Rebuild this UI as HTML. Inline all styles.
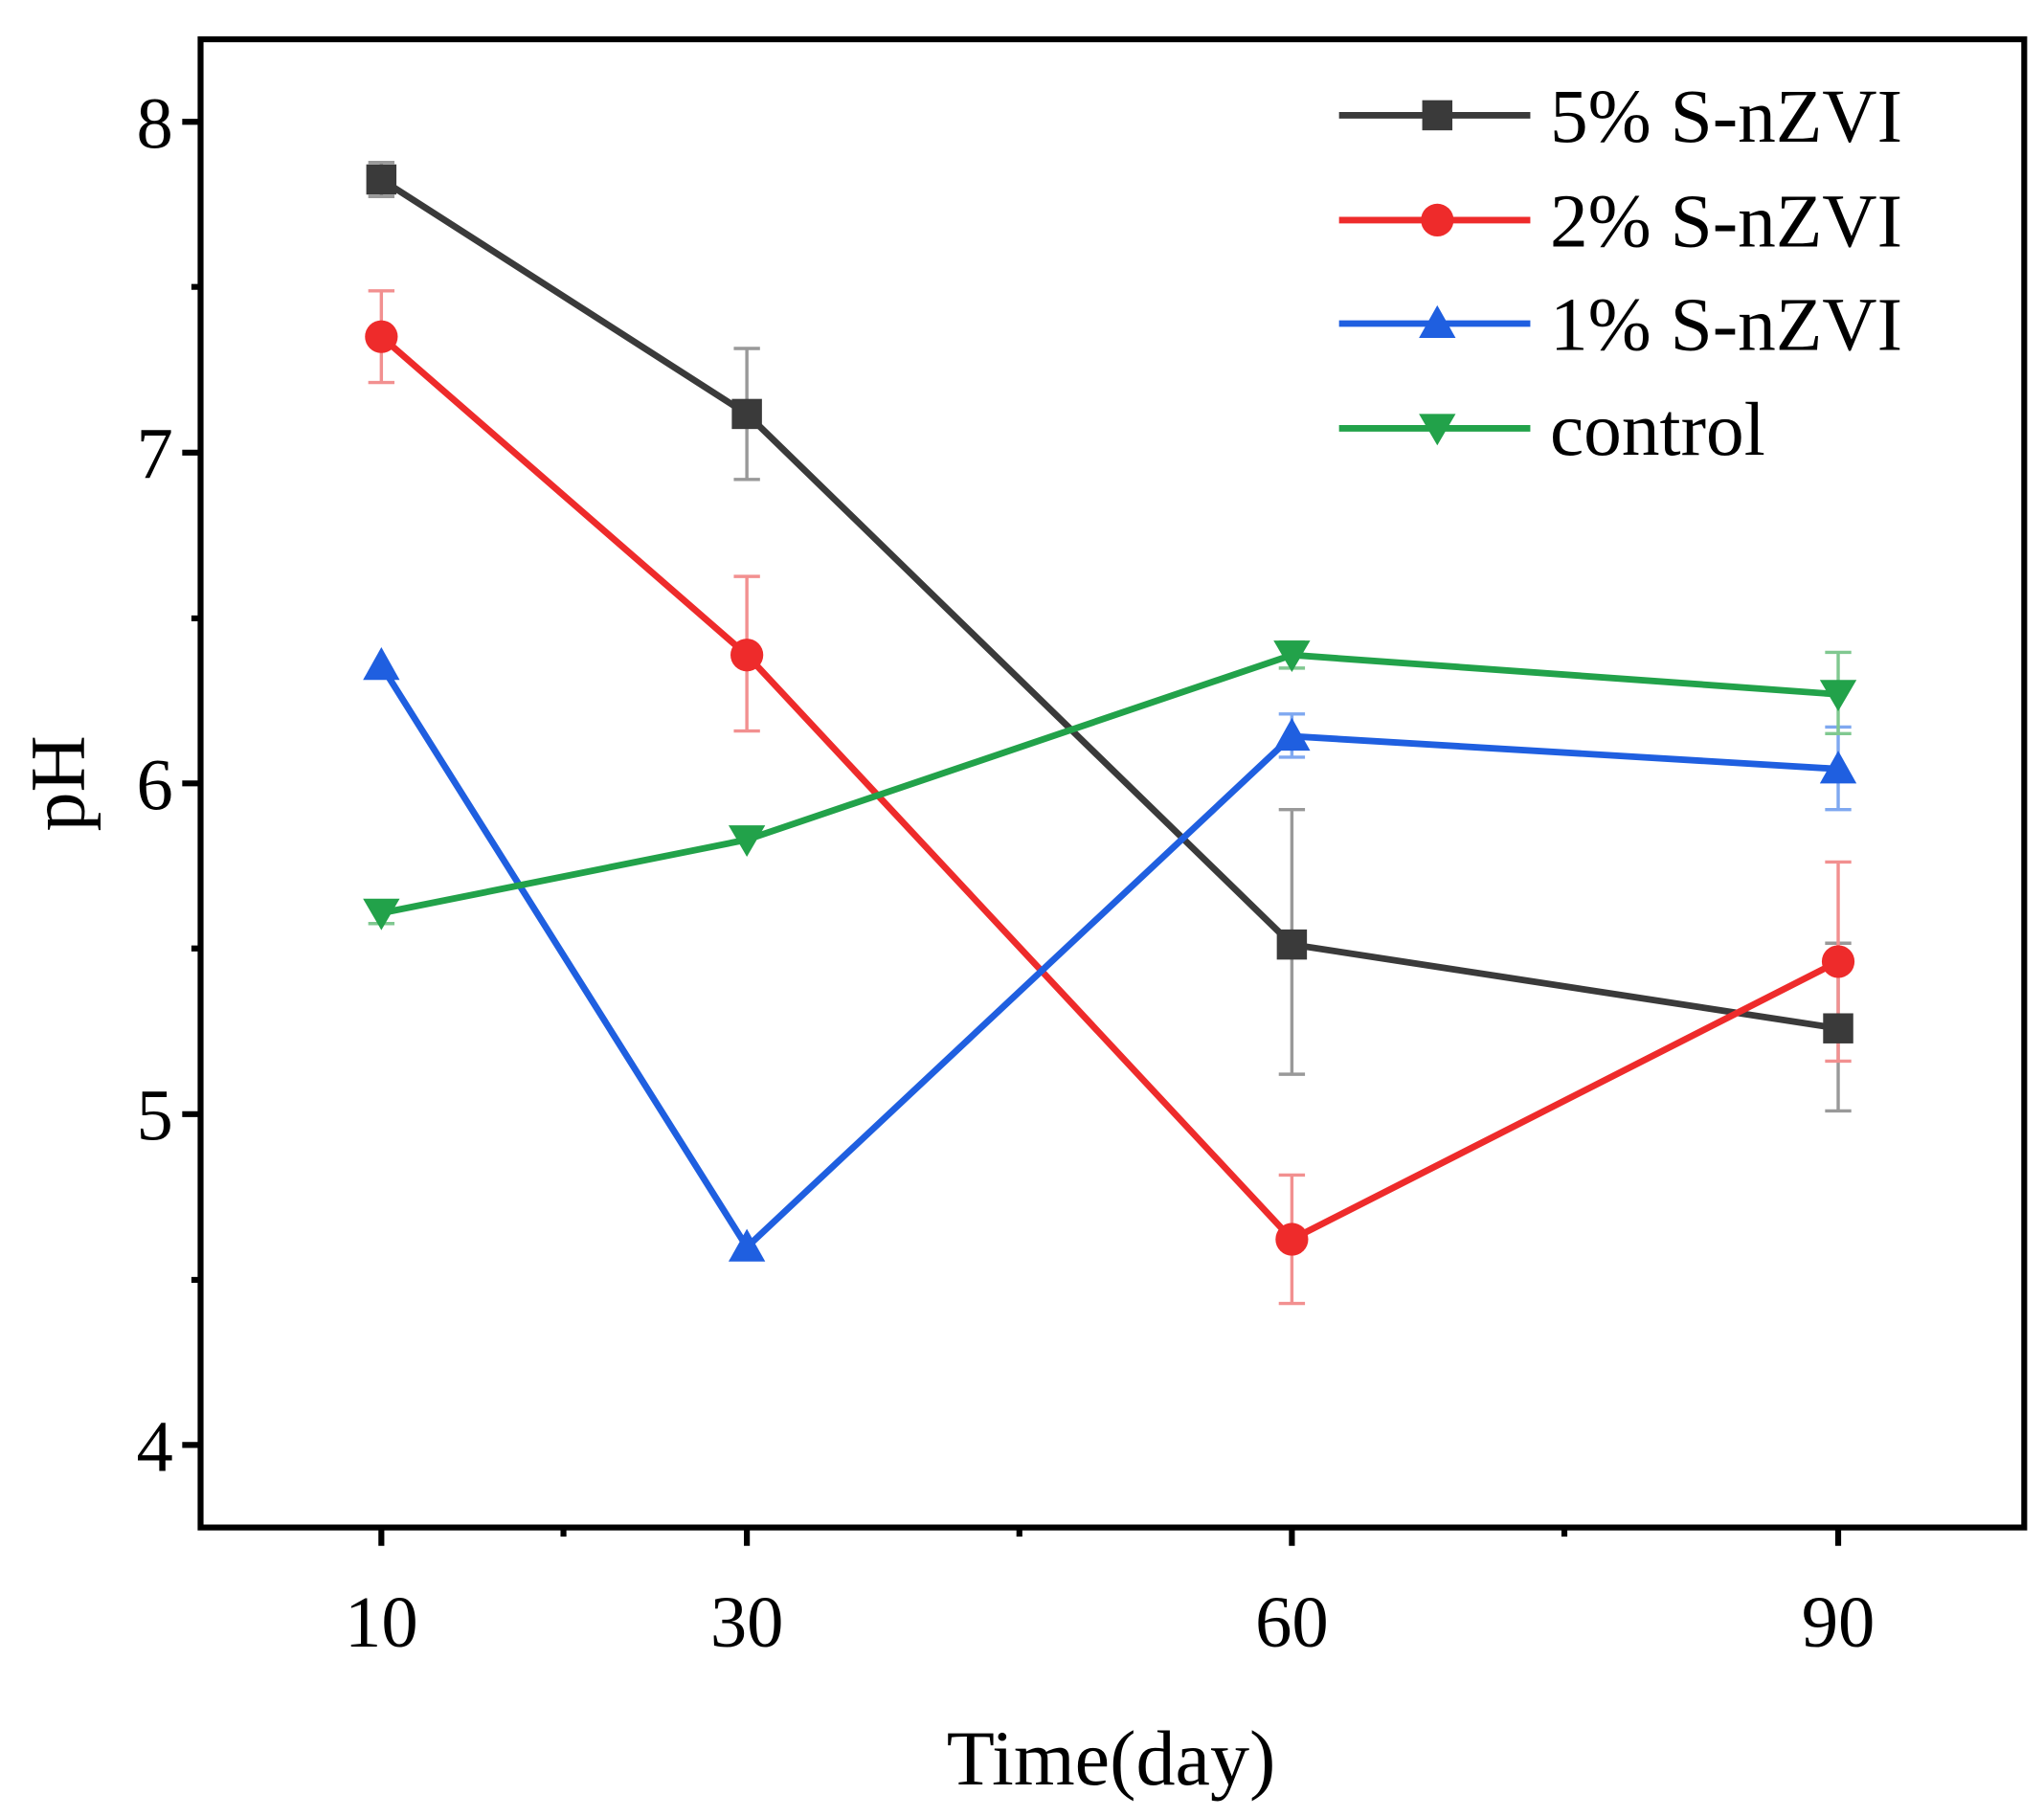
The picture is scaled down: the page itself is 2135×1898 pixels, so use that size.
<!DOCTYPE html>
<html><head><style>body{margin:0;background:#fff}svg{display:block}</style></head><body>
<svg width="2135" height="1898" viewBox="0 0 1560 1387" xmlns="http://www.w3.org/2000/svg" font-family="Liberation Serif, serif">
<rect x="0" y="0" width="1560" height="1387" fill="#fff"/>
<defs>
<g id="sq"><rect x="-11.5" y="-11.5" width="23" height="23" fill="#3a3a3a"/></g>
<g id="ci"><circle r="12.5" fill="#ee2b2b"/></g>
<g id="tu"><polygon points="0,-14 14,11 -14,11" fill="#1f5fe0"/></g>
<g id="td"><polygon points="0,13 14,-11 -14,-11" fill="#22a24a"/></g>
</defs>
<g stroke-width="2.5" fill="none">
<g stroke="#999"><path d="M291,124V150M281,124H301M281,150H301"/><path d="M570,266V366M560,266H580M560,366H580"/><path d="M986,618V820M976,618H996M976,820H996"/><path d="M1403,720V848M1393,720H1413M1393,848H1413"/></g>
<g stroke="#f29090"><path d="M291,222V292M281,222H301M281,292H301"/><path d="M570,440V558M560,440H580M560,558H580"/><path d="M986,897V995M976,897H996M976,995H996"/><path d="M1403,658V810M1393,658H1413M1393,810H1413"/></g>
<g stroke="#7fa8f0"><path d="M986,545V578M976,545H996M976,578H996"/><path d="M1403,555V618M1393,555H1413M1393,618H1413"/></g>
<g stroke="#80c890"><path d="M291,688V705M281,688H301M281,705H301"/><path d="M986,490V510M976,490H996M976,510H996"/><path d="M1403,498V560M1393,498H1413M1393,560H1413"/></g>
</g>
<g fill="none" stroke-width="5" stroke-linejoin="round">
<polyline stroke="#3a3a3a" points="291,137 570,316 986,721 1403,785"/>
<polyline stroke="#ee2b2b" points="291,257 570,500 986,946 1403,734"/>
<polyline stroke="#1f5fe0" points="291,508 570,952 986,562 1403,587"/>
<polyline stroke="#22a24a" points="291,697 570,641 986,500 1403,530"/>
</g>
<use href="#sq" x="291" y="137"/><use href="#sq" x="570" y="316"/><use href="#sq" x="986" y="721"/><use href="#sq" x="1403" y="785"/>
<use href="#ci" x="291" y="257"/><use href="#ci" x="570" y="500"/><use href="#ci" x="986" y="946"/><use href="#ci" x="1403" y="734"/>
<use href="#tu" x="291" y="508"/><use href="#tu" x="570" y="952"/><use href="#tu" x="986" y="562"/><use href="#tu" x="1403" y="587"/>
<use href="#td" x="291" y="697"/><use href="#td" x="570" y="641"/><use href="#td" x="986" y="500"/><use href="#td" x="1403" y="530"/>
<rect x="153" y="30" width="1392" height="1136" fill="none" stroke="#000" stroke-width="4.5"/>
<g stroke="#000" stroke-width="4.5">
<path d="M139,93H153M139,345.5H153M139,598H153M139,850.5H153M139,1103H153"/>
<path d="M146,219H153M146,472H153M146,724H153M146,977H153"/>
<path d="M291,1166V1180M570,1166V1180M986,1166V1180M1403,1166V1180"/>
<path d="M430,1166V1173M778,1166V1173M1194,1166V1173"/>
</g>
<g font-size="56" text-anchor="end" fill="#000">
<text x="132" y="113">8</text><text x="132" y="365">7</text><text x="132" y="618">6</text><text x="132" y="870">5</text><text x="132" y="1123">4</text>
</g>
<g font-size="56" text-anchor="middle" fill="#000">
<text x="291" y="1257">10</text><text x="570" y="1257">30</text><text x="986" y="1257">60</text><text x="1403" y="1257">90</text>
</g>
<text x="848" y="1362" font-size="60" text-anchor="middle">Time(day)</text>
<text transform="translate(64,598) rotate(-90)" font-size="60" text-anchor="middle">pH</text>
<g stroke-width="5">
<line x1="1022" y1="88" x2="1168" y2="88" stroke="#3a3a3a"/>
<line x1="1022" y1="168" x2="1168" y2="168" stroke="#ee2b2b"/>
<line x1="1022" y1="247" x2="1168" y2="247" stroke="#1f5fe0"/>
<line x1="1022" y1="327" x2="1168" y2="327" stroke="#22a24a"/>
</g>
<use href="#sq" x="1097" y="88"/><use href="#ci" x="1097" y="168"/><use href="#tu" x="1097" y="247"/><use href="#td" x="1097" y="327"/>
<g font-size="58" fill="#000">
<text x="1183" y="108">5% S-nZVI</text>
<text x="1183" y="188">2% S-nZVI</text>
<text x="1183" y="267">1% S-nZVI</text>
<text x="1183" y="347">control</text>
</g>
</svg>
</body></html>
